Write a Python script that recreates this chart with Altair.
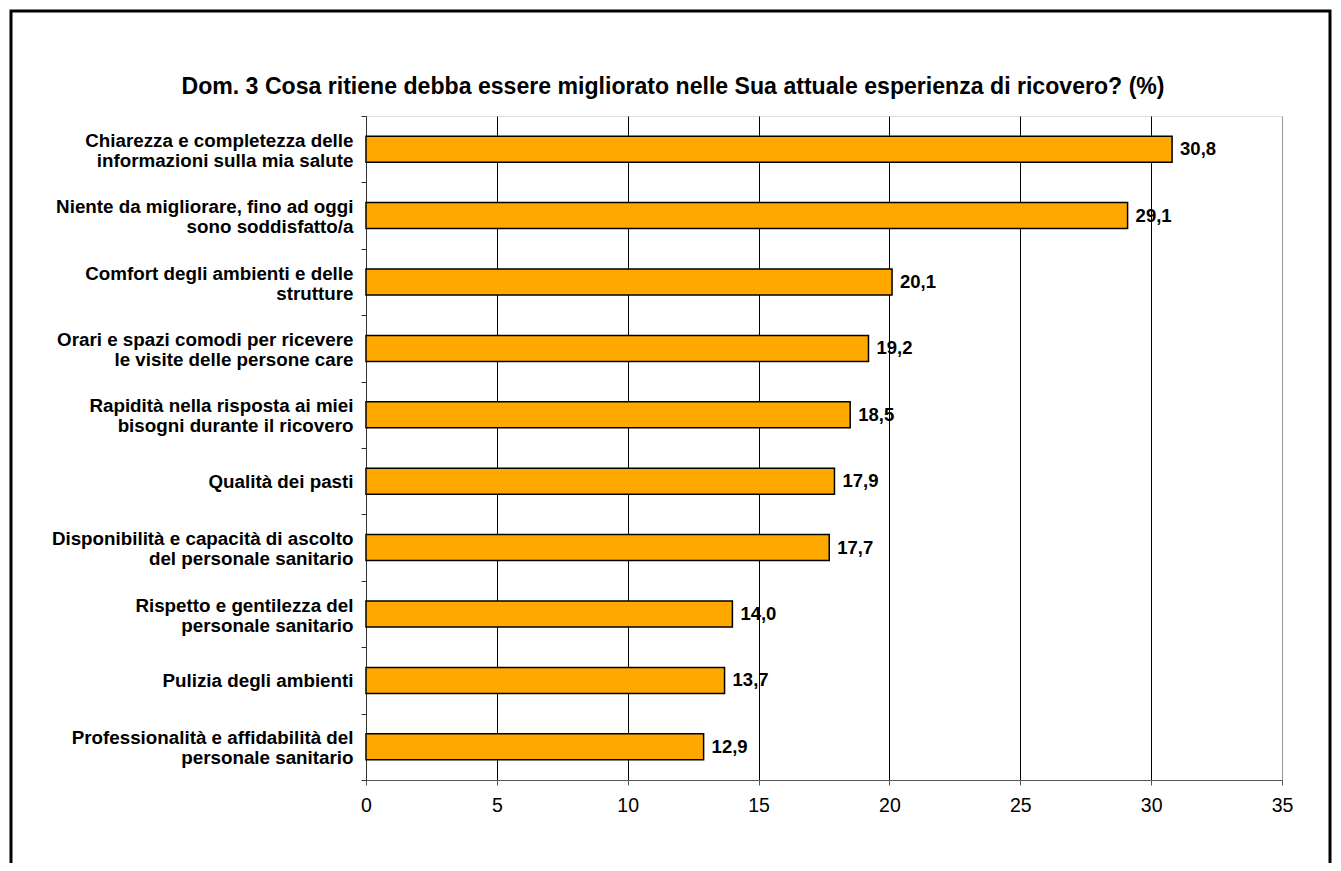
import altair as alt
import pandas as pd

categories = [
    "Chiarezza e completezza delle|informazioni sulla mia salute",
    "Niente da migliorare, fino ad oggi|sono soddisfatto/a",
    "Comfort degli ambienti e delle|strutture",
    "Orari e spazi comodi per ricevere|le visite delle persone care",
    "Rapidità nella risposta ai miei|bisogni durante il ricovero",
    "Qualità dei pasti",
    "Disponibilità e capacità di ascolto|del personale sanitario",
    "Rispetto e gentilezza del|personale sanitario",
    "Pulizia degli ambienti",
    "Professionalità e affidabilità del|personale sanitario",
]
values = [30.8, 29.1, 20.1, 19.2, 18.5, 17.9, 17.7, 14.0, 13.7, 12.9]
x_ticks = [0, 5, 10, 15, 20, 25, 30, 35]
title_text = "Dom. 3 Cosa ritiene debba essere migliorato nelle Sua attuale esperienza di ricovero? (%)"

df = pd.DataFrame({"cat": categories, "val": values})
df["lab"] = [f"{v:.1f}".replace(".", ",") for v in values]

FONT = "Liberation Sans"
W, H = 916, 664

y_enc = alt.Y(
    "cat:N",
    sort=categories,
    title=None,
    scale=alt.Scale(paddingInner=0, paddingOuter=0),
    axis=alt.Axis(
        labelExpr="split(datum.label, '|')",
        labelFont=FONT,
        labelFontSize=18.8,
        labelFontWeight="bold",
        labelColor="black",
        labelLimit=400,
        labelLineHeight=20,
        labelPadding=8,
        labelOffset=alt.condition("indexof(datum.label, '|') >= 0", alt.value(-9), alt.value(0)),
        tickBand="extent",
        tickSize=5,
        tickColor="#333333",
        domainColor="#333333",
        grid=False,
    ),
)

x_enc = alt.X(
    "val:Q",
    title=None,
    scale=alt.Scale(domain=[0, 35], nice=False),
    axis=alt.Axis(
        values=x_ticks,
        labelFont=FONT,
        labelFontSize=19.5,
        labelColor="black",
        labelPadding=11,
        labelFlush=False,
        tickSize=5,
        tickColor="#555555",
        domainColor="#555555",
        grid=True,
        gridColor=alt.condition("datum.value == 35", alt.value("#999999"), alt.value("black")),
        gridOpacity=1,
        gridWidth=1,
    ),
)

bars = alt.Chart(df).mark_bar(
    size=26, color="#FFA800", stroke="black", strokeWidth=1.5
).encode(y=y_enc, x=x_enc)

labels = alt.Chart(df).mark_text(
    align="left", baseline="middle", dx=8, font=FONT, fontSize=18.5,
    fontWeight="bold", color="black"
).encode(y=alt.Y("cat:N", sort=categories), x="val:Q", text="lab:N")

title = alt.Chart(pd.DataFrame({"t": [title_text]})).mark_text(
    align="center", baseline="middle", font=FONT, fontSize=23.1,
    fontWeight="bold", color="black"
).encode(x=alt.value(307), y=alt.value(-29), text="t:N")

frame = alt.Chart(pd.DataFrame({"a": [0]})).mark_rect(
    filled=False, stroke="black", strokeWidth=3
).encode(
    x=alt.value(-355), x2=alt.value(964), y=alt.value(-105), y2=alt.value(800)
)

chart = alt.layer(bars, labels, title, frame).properties(
    width=W,
    height=H,
    autosize=alt.AutoSizeParams(type="none"),
    padding={"left": 358, "top": 108, "right": 51, "bottom": 83},
).configure_view(stroke="#999999", strokeWidth=1.5).configure(background="white")

chart.save("out.html", embed_options={"renderer": "svg", "actions": False})
